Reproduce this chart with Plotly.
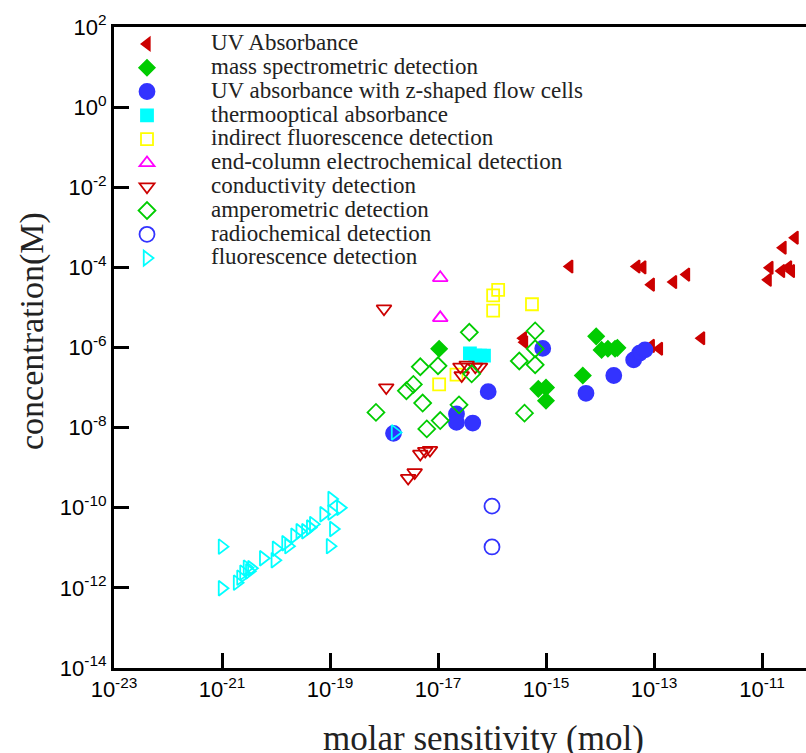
import plotly.graph_objects as go

# ---------------- data (molar sensitivity [mol], concentration [M]) ----------------
uv_abs_x = [3.8e-16, 4.0e-16, 2.75e-15, 4.8e-14, 6.2e-14, 8.9e-14, 2.3e-13, 4.0e-13,
            2.45e-11, 4.1e-11, 1.4e-11, 1.3e-11, 2.3e-11, 3.1e-11, 3.5e-11,
            7.6e-13, 8.9e-14, 1.26e-13]
uv_abs_y = [1.7e-6, 1.35e-6, 1.05e-4, 1.05e-4, 1.0e-4, 3.7e-5, 4.3e-5, 6.6e-5,
            3.1e-4, 5.5e-4, 9.8e-5, 4.9e-5, 8.1e-5, 1.0e-4, 8.1e-5,
            1.7e-6, 1.1e-6, 9.3e-7]

ms_x = [1.05e-17, 7.2e-16, 1.0e-15, 1.0e-15, 8.5e-15, 1.07e-14, 1.4e-14, 1.9e-14, 2.1e-14, 4.8e-15]
ms_y = [9.3e-7, 9.3e-8, 1.0e-7, 4.7e-8, 1.9e-6, 8.7e-7, 9.3e-7, 9.3e-7, 9.8e-7, 2.0e-7]

uvz_x = [8.7e-16, 8.5e-17, 2.2e-17, 2.2e-17, 4.4e-17, 1.5e-18, 5.5e-15, 1.8e-14, 4.2e-14, 5.4e-14, 6.8e-14]
uvz_y = [9.5e-7, 7.9e-8, 2.2e-8, 1.35e-8, 1.3e-8, 7.2e-9, 7.2e-8, 2.0e-7, 4.9e-7, 7.2e-7, 8.7e-7]

thermo_x = [3.9e-17, 4.9e-17, 6.0e-17, 7.1e-17]
thermo_y = [7.1e-7, 6.3e-7, 6.3e-7, 6.3e-7]

indfl_x = [1.3e-16, 1.05e-16, 1.05e-16, 5.5e-16, 1.05e-17, 2.2e-17]
indfl_y = [2.75e-5, 2.0e-5, 8.3e-6, 1.2e-5, 1.2e-7, 2.1e-7]

endcol_x = [1.1e-17, 1.1e-17]
endcol_y = [5.5e-5, 5.5e-6]

cond_x = [1.0e-18, 1.1e-18, 4.7e-18, 5.8e-18, 7.1e-18, 2.8e-18, 3.7e-18,
          2.6e-17, 3.4e-17, 4.9e-17, 6.0e-17, 2.75e-17]
cond_y = [9.3e-6, 1.0e-7, 2.2e-9, 2.6e-9, 2.75e-9, 5.5e-10, 7.6e-10,
          3.3e-7, 3.7e-7, 3.3e-7, 3.3e-7, 2.0e-7]

amp_x = [3.8e-17, 4.7e-18, 1.0e-17, 3.5e-18, 2.6e-18, 5.2e-18, 7.1e-19, 6.2e-18,
         1.1e-17, 2.45e-17, 4.2e-17, 3.2e-16, 6.3e-16, 6.3e-16, 6.3e-16, 4.0e-16]
amp_y = [2.4e-6, 3.3e-7, 3.5e-7, 1.2e-7, 8.3e-8, 4.1e-8, 2.4e-8, 9.3e-9,
         1.5e-8, 3.7e-8, 2.2e-7, 4.6e-7, 2.6e-6, 9.3e-7, 3.7e-7, 2.3e-8]

radio_x = [1.0e-16, 1.0e-16]
radio_y = [1.1e-10, 1.05e-11]

fluo_x = [1.0e-21, 1.0e-21, 1.9e-21, 2.2e-21, 2.9e-21, 3.2e-21, 2.5e-21, 3.5e-21,
          5.8e-21, 9.5e-21, 1.0e-20, 1.5e-20, 1.7e-20, 2.2e-20, 2.75e-20, 3.5e-20,
          4.3e-20, 4.9e-20, 7.6e-20, 1.07e-19, 1.07e-19, 1.55e-19, 1.15e-19, 1.0e-19,
          1.6e-18]
fluo_y = [1.07e-11, 9.8e-13, 1.35e-12, 1.8e-12, 3.2e-12, 2.6e-12, 2.4e-12, 3.1e-12,
          5.5e-12, 4.9e-12, 9.5e-12, 1.3e-11, 1.1e-11, 2.0e-11, 2.6e-11, 2.6e-11,
          3.2e-11, 3.9e-11, 6.9e-11, 7.6e-11, 1.66e-10, 1.0e-10, 2.95e-11, 1.1e-11,
          7.6e-9]

series = [
    ("UV Absorbance", uv_abs_x, uv_abs_y, "triangle-left", "#CC0000", 11),
    ("mass spectrometric detection", ms_x, ms_y, "diamond", "#00CC00", 12),
    ("UV absorbance with z-shaped flow cells", uvz_x, uvz_y, "circle", "#3333FF", 15),
    ("thermooptical absorbance", thermo_x, thermo_y, "square", "#00FFFF", 12),
    ("indirect fluorescence detection", indfl_x, indfl_y, "square-open", "#FFFF00", 12),
    ("end-column electrochemical detection", endcol_x, endcol_y, "triangle-up-open", "#FF00FF", 13),
    ("conductivity detection", cond_x, cond_y, "triangle-down-open", "#CC0000", 13),
    ("amperometric detection", amp_x, amp_y, "diamond-open", "#00CC00", 13),
    ("radiochemical detection", radio_x, radio_y, "circle-open", "#3333FF", 15),
    ("fluorescence detection", fluo_x, fluo_y, "triangle-right-open", "#00FFFF", 13),
]

x_tick_exp = [-23, -21, -19, -17, -15, -13, -11]
y_tick_exp = [2, 0, -2, -4, -6, -8, -10, -12, -14]

# ---------------- figure ----------------
fig = go.Figure()
for name, xs, ys, sym, col, sz in series:
    fig.add_trace(go.Scatter(
        x=xs, y=ys, mode="markers",
        name='<span style="font-size:23px">' + name + '</span>',
        marker=dict(symbol=sym, color=col, size=sz,
                    line=dict(color=col, width=1.8)),
    ))

W, H = 806, 753
L, R, T, B = 114, 0, 27, 85
plot_w = W - L - R
plot_h = H - T - B
decade_px = 54.0
x_max = -23 + plot_w / decade_px

legend_item_w = 118
legend_left_px = 147 - (legend_item_w + 10) / 2

fig.update_layout(
    width=W, height=H,
    margin=dict(l=L, r=R, t=T, b=B, autoexpand=False),
    paper_bgcolor="white", plot_bgcolor="white",
    showlegend=True,
    legend=dict(
        x=(legend_left_px - L) / plot_w, y=1.0, xanchor="left", yanchor="top",
        bgcolor="rgba(0,0,0,0)", borderwidth=0,
        font=dict(family="Liberation Serif", size=16, color="#222"),
        itemwidth=legend_item_w, tracegroupgap=0,
    ),
    xaxis=dict(
        type="log", range=[-23, x_max],
        showgrid=False, zeroline=False,
        showline=True, linewidth=3, linecolor="black", mirror=True,
        ticks="inside", ticklen=15, tickwidth=3, tickcolor="black",
        tickvals=[10.0 ** e for e in x_tick_exp],
        ticktext=["10<sup>%d</sup>" % e for e in x_tick_exp],
        tickfont=dict(family="Liberation Sans", size=22, color="black"),
    ),
    yaxis=dict(
        type="log", range=[-14, 2],
        showgrid=False, zeroline=False,
        showline=True, linewidth=3, linecolor="black", mirror=False,
        ticks="inside", ticklen=15, tickwidth=3, tickcolor="black",
        tickvals=[10.0 ** e for e in y_tick_exp],
        ticktext=["10<sup>%d</sup>" % e for e in y_tick_exp],
        tickfont=dict(family="Liberation Sans", size=22, color="black"),
    ),
    annotations=[
        dict(text="molar sensitivity (mol)", xref="paper", yref="paper",
             x=(483 - L) / plot_w, y=(T + plot_h - 738) / plot_h,
             xanchor="center", yanchor="middle", showarrow=False,
             font=dict(family="Liberation Serif", size=35, color="#222")),
        dict(text="concentration(M)", xref="paper", yref="paper",
             x=(32 - L) / plot_w, y=(T + plot_h - 331) / plot_h,
             xanchor="center", yanchor="middle", showarrow=False, textangle=-90,
             font=dict(family="Liberation Serif", size=34, color="#222")),
    ],
)

fig.write_html("out.html")
